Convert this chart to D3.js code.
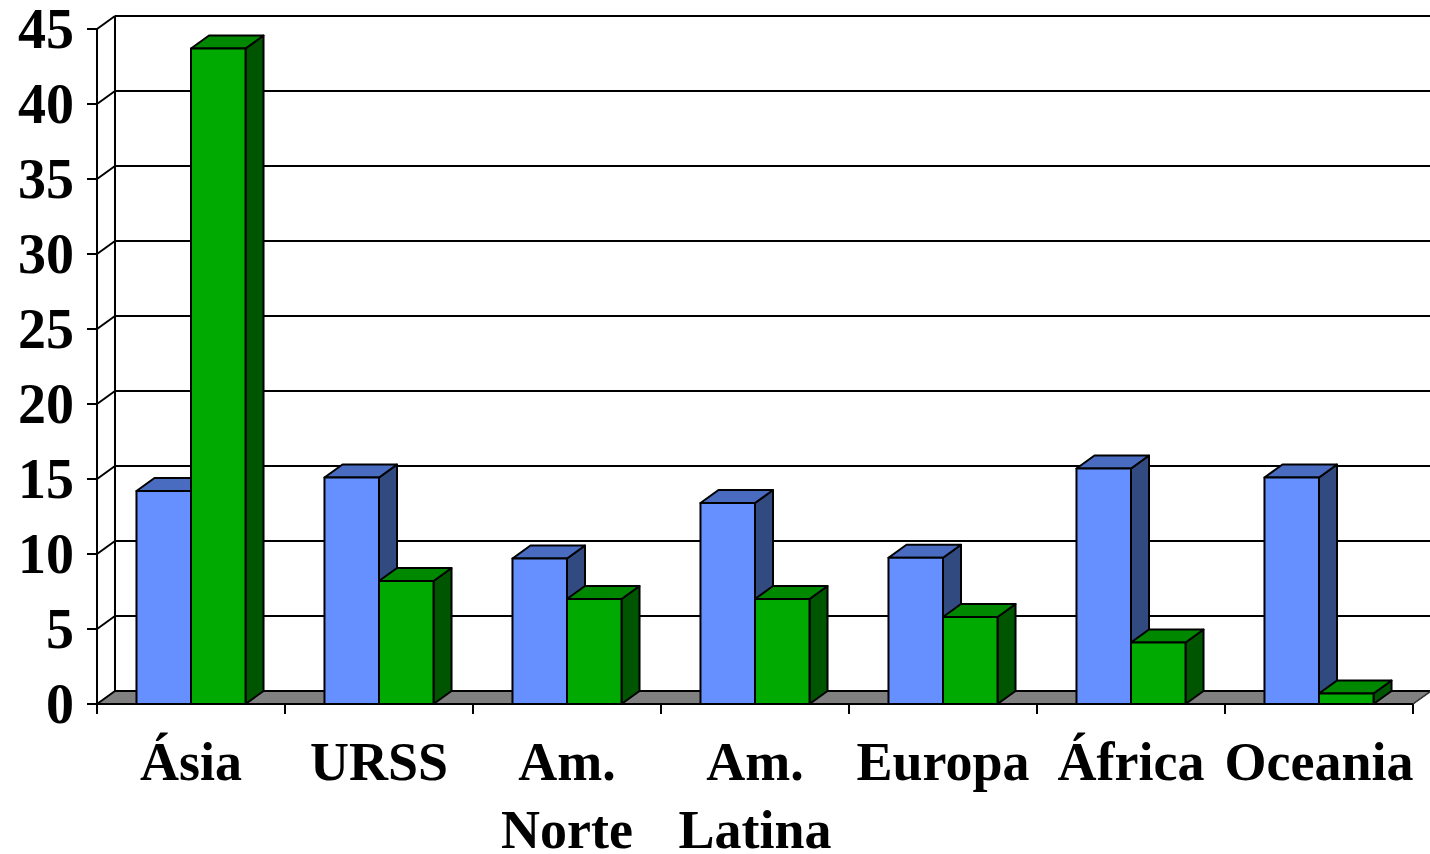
<!DOCTYPE html>
<html>
<head>
<meta charset="utf-8">
<script src="https://cdn.jsdelivr.net/npm/d3@7"></script>
<style>
html,body{margin:0;padding:0;background:#fff;}
svg{display:block;}
text{font-family:"Liberation Serif","Times New Roman",serif;font-weight:bold;fill:#000;}
</style>
</head>
<body>
<svg id="chart" width="1430" height="854"></svg>
<script>
const categories = ["Ásia", "URSS", "Am.\nNorte", "Am.\nLatina", "Europa", "África", "Oceania"];
const seriesBlue = [14.2, 15.1, 9.7, 13.4, 9.75, 15.7, 15.1];
const seriesGreen = [43.7, 8.2, 7.0, 7.0, 5.8, 4.1, 0.7];
const yTicks = [0, 5, 10, 15, 20, 25, 30, 35, 40, 45];

(function () {
const svg = d3.select("#chart");
const pLeft = 97, pRight = 1413, pBottom = 704, pTop = 29;
const DX = 18, DY = -13;

const x = d3.scaleBand().domain(d3.range(categories.length)).range([pLeft, pRight])
  .paddingInner(0.42).paddingOuter(0.21);
const xs = d3.scaleBand().domain([0, 1]).range([0, x.bandwidth()]);
const y = d3.scaleLinear().domain([0, 45]).range([pBottom, pTop]);

// floor
svg.append("polygon")
  .attr("points", [[pLeft, pBottom], [pLeft + DX, pBottom + DY], [pRight + DX, pBottom + DY], [pRight, pBottom]].join(" "))
  .attr("fill", "#808080").attr("stroke", "#333").attr("stroke-width", 1);

// gridlines on back wall
svg.append("g").selectAll("line").data(yTicks).join("line")
  .attr("x1", pLeft + DX).attr("x2", pRight + DX + 2)
  .attr("y1", d => y(d) + DY).attr("y2", d => y(d) + DY)
  .attr("stroke", "#000").attr("stroke-width", 2);

// left wall back edge
svg.append("line").attr("x1", pLeft + DX).attr("x2", pLeft + DX)
  .attr("y1", y(45) + DY).attr("y2", y(0) + DY).attr("stroke", "#000").attr("stroke-width", 2);
// diagonals
svg.append("g").selectAll("line").data(yTicks).join("line")
  .attr("x1", pLeft).attr("x2", pLeft + DX)
  .attr("y1", d => y(d)).attr("y2", d => y(d) + DY)
  .attr("stroke", "#000").attr("stroke-width", 2);
// front value axis
svg.append("line").attr("x1", pLeft).attr("x2", pLeft)
  .attr("y1", y(45)).attr("y2", y(0)).attr("stroke", "#000").attr("stroke-width", 2);
svg.append("g").selectAll("line").data(yTicks).join("line")
  .attr("x1", pLeft - 10).attr("x2", pLeft)
  .attr("y1", d => y(d)).attr("y2", d => y(d))
  .attr("stroke", "#000").attr("stroke-width", 2);
svg.append("g").selectAll("text").data(yTicks).join("text")
  .attr("x", 74).attr("y", d => y(d) + 19)
  .attr("text-anchor", "end").attr("font-size", 56)
  .text(d => d);

// category axis
svg.append("line").attr("x1", pLeft).attr("x2", pRight)
  .attr("y1", pBottom).attr("y2", pBottom).attr("stroke", "#000").attr("stroke-width", 2);
const step = (pRight - pLeft) / categories.length;
svg.append("g").selectAll("line").data(d3.range(categories.length + 1)).join("line")
  .attr("x1", i => pLeft + i * step).attr("x2", i => pLeft + i * step)
  .attr("y1", pBottom).attr("y2", pBottom + 10)
  .attr("stroke", "#000").attr("stroke-width", 2);

// floor right diagonal edge
svg.append("line").attr("x1", pRight).attr("y1", pBottom).attr("x2", pRight + DX).attr("y2", pBottom + DY)
  .attr("stroke", "#333").attr("stroke-width", 1.5);

// bars
const styles = [
  {front: "#6690FF", face: "#4A6CC0", side: "#314A80"},
  {front: "#00AA00", face: "#008800", side: "#005500"}
];
const gBars = svg.append("g");
categories.forEach((c, i) => {
  [seriesBlue[i], seriesGreen[i]].forEach((v, s) => {
    const x0 = x(i) + xs(s), x1 = x0 + xs.bandwidth();
    const yt = y(v), yb = y(0);
    const st = styles[s];
    const g = gBars.append("g").attr("stroke", "#000").attr("stroke-width", 2).attr("stroke-linejoin", "round");
    g.append("polygon").attr("fill", st.side)
      .attr("points", [[x1, yt], [x1 + DX, yt + DY], [x1 + DX, yb + DY], [x1, yb]].join(" "));
    g.append("polygon").attr("fill", st.face)
      .attr("points", [[x0, yt], [x0 + DX, yt + DY], [x1 + DX, yt + DY], [x1, yt]].join(" "));
    g.append("rect").attr("fill", st.front)
      .attr("x", x0).attr("y", yt).attr("width", x1 - x0).attr("height", yb - yt);
  });
});

// category labels
const lab = svg.append("g").selectAll("text").data(categories).join("text")
  .attr("text-anchor", "middle").attr("font-size", 54)
  .attr("transform", (d, i) => `translate(${pLeft + (i + 0.5) * step},780)`);
lab.each(function(d) {
  const parts = d.split("\n");
  d3.select(this).selectAll("tspan").data(parts).join("tspan")
    .attr("x", 0).attr("y", (p, k) => k * 68).text(p => p);
});
})();
</script>
</body>
</html>
